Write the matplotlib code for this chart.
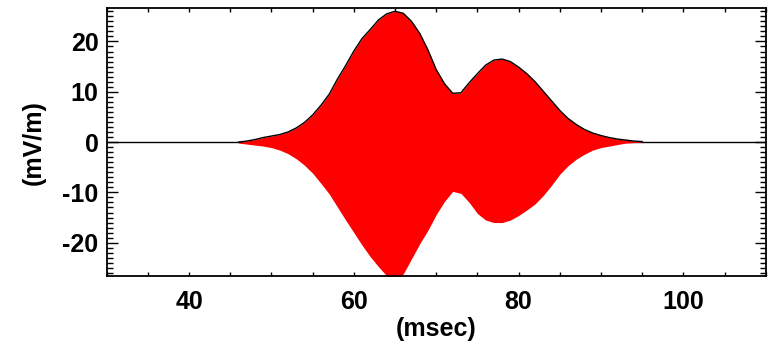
import numpy as np
import matplotlib.pyplot as plt
from matplotlib.ticker import MultipleLocator

# envelope of the wave packet (msec, mV/m)
t_ms = [46, 47, 48, 49, 50, 51, 52, 53, 54, 55, 56, 57, 58, 59, 60,
        61, 62, 63, 64, 65, 66, 67, 68, 69, 70, 71, 72, 73, 74, 75,
        76, 77, 78, 79, 80, 81, 82, 83, 84, 85, 86, 87, 88, 89, 90,
        91, 92, 93, 94, 95]
upper = [0.0, 0.2, 0.5, 0.9, 1.2, 1.5, 2.0, 2.8, 3.9, 5.4, 7.3, 9.5, 12.5, 15.2, 18.1,
         20.6, 22.4, 24.3, 25.5, 26.0, 25.6, 24.0, 21.6, 18.3, 14.4, 11.6, 9.7, 9.8, 11.8, 13.6,
         15.3, 16.3, 16.5, 16.0, 14.9, 13.6, 12.0, 10.1, 8.2, 6.3, 4.7, 3.5, 2.5, 1.8, 1.3,
         0.9, 0.6, 0.4, 0.2, 0.1]
lower = [-0.2, -0.4, -0.6, -0.8, -1.1, -1.6, -2.3, -3.3, -4.6, -6.2, -8.2, -10.3, -12.9, -15.5, -18.0,
         -20.5, -22.8, -24.8, -26.6, -27.6, -26.2, -23.2, -20.2, -17.5, -14.4, -11.8, -9.8, -10.2, -12.0, -14.2,
         -15.5, -16.0, -16.0, -15.5, -14.6, -13.5, -12.3, -10.6, -8.6, -6.4, -4.7, -3.4, -2.4, -1.6, -1.1,
         -0.8, -0.5, -0.2, -0.1, 0.0]

plt.rcParams['font.family'] = ['Liberation Sans', 'DejaVu Sans']
plt.rcParams['font.weight'] = 'bold'
plt.rcParams['axes.unicode_minus'] = False

fig = plt.figure(figsize=(7.68, 3.44), dpi=100)
ax = fig.add_axes([0.139, 0.198, 0.858, 0.778])

ax.axhline(0, color='black', lw=1.0, zorder=1)
ax.fill_between(t_ms, lower, upper, color='#ff0000', lw=0, zorder=2)
ax.plot(t_ms, upper, color='black', lw=1.0, zorder=3)

ax.set_xlim(30, 110)
ax.set_ylim(-26.6, 26.6)

ax.xaxis.set_major_locator(MultipleLocator(20))
ax.xaxis.set_minor_locator(MultipleLocator(5))
ax.yaxis.set_major_locator(MultipleLocator(10))
ax.yaxis.set_minor_locator(MultipleLocator(1))

ax.tick_params(axis='both', which='both', direction='in', top=True, right=True,
               labelsize=18, width=1.0)
ax.tick_params(axis='x', which='both', length=3, pad=10)
ax.tick_params(axis='y', which='major', length=8, pad=6)
ax.tick_params(axis='y', which='minor', length=4.3)

for sp in ax.spines.values():
    sp.set_linewidth(1.3)

ax.set_xlabel('(msec)', fontsize=18, fontweight='bold', labelpad=2)
ax.set_ylabel('(mV/m)', fontsize=18, fontweight='bold', labelpad=12)

plt.savefig('out.png', dpi=100)
